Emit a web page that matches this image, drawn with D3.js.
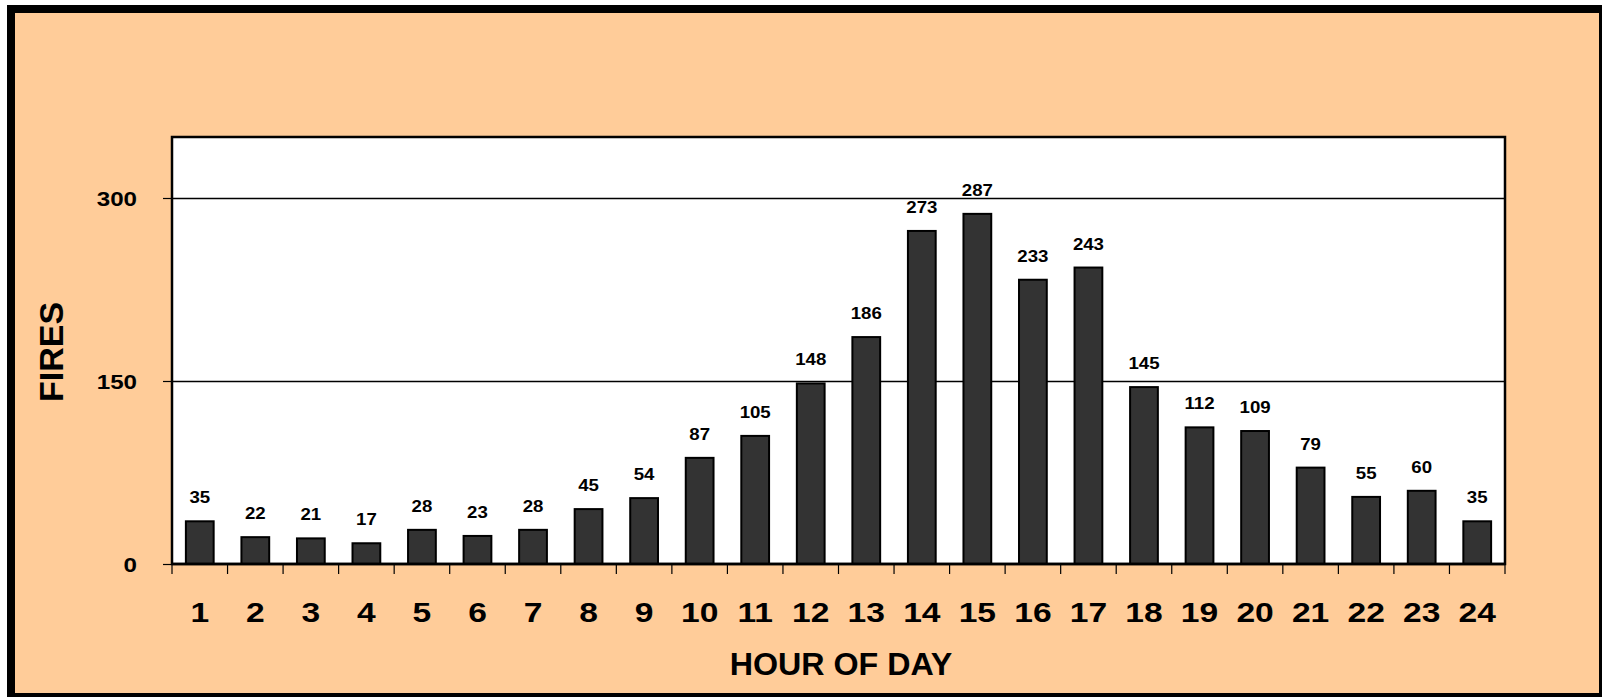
<!DOCTYPE html>
<html><head><meta charset="utf-8">
<script src="https://cdn.jsdelivr.net/npm/d3@7"></script>
<style>html,body{margin:0;padding:0;background:#fff;overflow:hidden}</style>
</head><body>
<script>
const hours = ["1","2","3","4","5","6","7","8","9","10","11","12","13","14","15","16","17","18","19","20","21","22","23","24"];
const fires = [35,22,21,17,28,23,28,45,54,87,105,148,186,273,287,233,243,145,112,109,79,55,60,35];
const yTicks = [0,150,300];
const xTitle = "HOUR OF DAY";
const yTitle = "FIRES";

(function(){
const W = 1602, H = 697;
const svg = d3.select("body").append("svg").attr("width", W).attr("height", H);
const font = "Arial, 'Liberation Sans', sans-serif";

// frame
svg.append("rect").attr("x",7).attr("y",5).attr("width",W-7).attr("height",H-5).attr("fill","#000");
svg.append("rect").attr("x",15).attr("y",13).attr("width",1584).attr("height",680).attr("fill","#FFCC99");

const pL = 172, pR = 1505, pT = 137, pB = 564;
const x = d3.scaleBand().domain(hours).range([pL, pR]).paddingInner(0.5).paddingOuter(0.25);
const y = d3.scaleLinear().domain([0,350]).range([pB, pT]);

svg.append("rect").attr("x",pL).attr("y",pT).attr("width",pR-pL).attr("height",pB-pT)
  .attr("fill","#fff");

// gridlines
svg.append("g").selectAll("line").data(yTicks.filter(d=>d>0)).join("line")
  .attr("x1",pL).attr("x2",pR).attr("y1",d=>Math.round(y(d))+0.5).attr("y2",d=>Math.round(y(d))+0.5)
  .attr("stroke","#000").attr("stroke-width",1.3);

// bars
svg.append("g").selectAll("rect").data(fires).join("rect")
  .attr("x",(d,i)=>x(hours[i])).attr("width",x.bandwidth())
  .attr("y",d=>y(d)).attr("height",d=>pB-y(d))
  .attr("fill","#333333").attr("stroke","#000").attr("stroke-width",2);

// value labels
svg.append("g").selectAll("text").data(fires).join("text")
  .attr("transform",(d,i)=>`translate(${x(hours[i])+x.bandwidth()/2},${y(d)-18}) scale(1.13,1)`)
  .attr("text-anchor","middle").attr("font-family",font).attr("font-weight","bold")
  .attr("font-size",16.5).attr("fill","#000").text(d=>d);

// plot border
svg.append("rect").attr("x",pL).attr("y",pT).attr("width",pR-pL).attr("height",pB-pT)
  .attr("fill","none").attr("stroke","#000").attr("stroke-width",2.5);

// y axis
const yAxis = d3.axisLeft(y).tickValues(yTicks).tickSize(9).tickSizeOuter(0).tickPadding(0).tickFormat(d3.format("d"));
const gy = svg.append("g").attr("transform",`translate(${pL},0)`).call(yAxis);
gy.select(".domain").remove();
gy.selectAll("line").attr("stroke","#000").attr("stroke-width",1.2);
gy.selectAll("text").remove();
svg.append("g").selectAll("text").data(yTicks).join("text")
  .attr("transform",d=>`translate(137,${y(d)+7.5}) scale(1.15,1)`)
  .attr("text-anchor","end").attr("font-family",font).attr("font-weight","bold")
  .attr("font-size",21).attr("fill","#000").text(d=>d);

// x axis ticks at category boundaries
const bounds = d3.range(hours.length+1).map(i=>pL + i*(pR-pL)/hours.length);
svg.append("g").selectAll("line").data(bounds).join("line")
  .attr("x1",d=>d).attr("x2",d=>d).attr("y1",pB).attr("y2",pB+10)
  .attr("stroke","#000").attr("stroke-width",1.2);
svg.append("line").attr("x1",pL).attr("x2",pR).attr("y1",pB).attr("y2",pB)
  .attr("stroke","#000").attr("stroke-width",2.5);

svg.append("g").selectAll("text").data(hours).join("text")
  .attr("transform",d=>`translate(${x(d)+x.bandwidth()/2},622) scale(1.2,1)`)
  .attr("text-anchor","middle").attr("font-family",font).attr("font-weight","bold")
  .attr("font-size",28).attr("fill","#000").text(d=>d);

// titles
svg.append("text").attr("transform","translate(841,675) scale(1.04,1)").attr("text-anchor","middle")
  .attr("font-family",font).attr("font-weight","bold").attr("font-size",31).attr("fill","#000").text(xTitle);
svg.append("text").attr("transform","translate(63,352) rotate(-90)").attr("text-anchor","middle")
  .attr("font-family",font).attr("font-weight","bold").attr("font-size",34).attr("fill","#000").text(yTitle);
})();
</script>
</body></html>
